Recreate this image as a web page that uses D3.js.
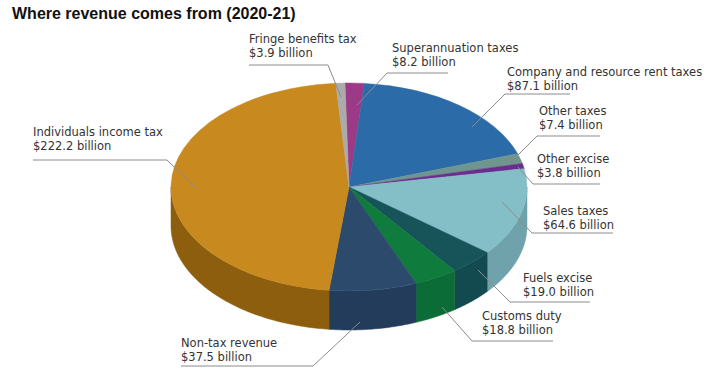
<!DOCTYPE html>
<html>
<head>
<meta charset="utf-8">
<script src="https://cdn.jsdelivr.net/npm/d3@7"></script>
<style>
  body { margin: 0; background: #fff; }
  .label { font-family: 'DejaVu Sans', sans-serif; }
  .title { font-family: 'Liberation Sans', Arial, sans-serif; font-weight: bold; }
</style>
</head>
<body>
<div id="chart"></div>
<script>
// The SVG Element
var chart_width  = 711;
var chart_height = 373;

// Data (clockwise from the top)
var categories = ['Superannuation taxes', 'Company and resource rent taxes', 'Other taxes', 'Other excise',
                  'Sales taxes', 'Fuels excise', 'Customs duty', 'Non-tax revenue',
                  'Individuals income tax', 'Fringe benefits tax'];
var values = [8.2, 87.1, 7.4, 3.8, 64.6, 19.0, 18.8, 37.5, 222.2, 3.9];
var value_labels = ['$8.2 billion', '$87.1 billion', '$7.4 billion', '$3.8 billion', '$64.6 billion',
                    '$19.0 billion', '$18.8 billion', '$37.5 billion', '$222.2 billion', '$3.9 billion'];

// Colours
var top_colors  = ['#9c3a88', '#2a6ba8', '#6e968f', '#6b2c8e', '#84bfc8',
                   '#16545a', '#0f7b3d', '#2c4a6b', '#c8891e', '#ababab'];
var side_colors = ['#7a2d6a', '#215584', '#577671', '#55236f', '#6fa2aa',
                   '#124a50', '#0c6c37', '#233c5c', '#8c5e0e', '#8a8a8a'];

// Label layout: text position, underline, and where the leader meets the slice
var label_layout = [
  { tx: 392, ty: 52,  ly: 73,  far: 448, join: 387, px: 357, py: 105 },
  { tx: 507, ty: 76,  ly: 94,  far: 570, join: 505, px: 472, py: 127 },
  { tx: 539, ty: 115, ly: 136, far: 600, join: 537, px: 513, py: 160 },
  { tx: 537, ty: 163, ly: 184, far: 600, join: 533, px: 518, py: 167 },
  { tx: 543, ty: 215, ly: 233, far: 613, join: 532, px: 502, py: 202 },
  { tx: 523, ty: 282, ly: 302, far: 590, join: 510, px: 478, py: 270 },
  { tx: 482, ty: 320, ly: 341, far: 553, join: 472, px: 442, py: 307 },
  { tx: 181, ty: 347, ly: 366, far: 181, join: 313, px: 360, py: 322 },
  { tx: 33,  ty: 136, ly: 160, far: 33,  join: 167, px: 198, py: 190 },
  { tx: 249, ty: 43,  ly: 65,  far: 249, join: 328, px: 341, py: 97 }
];

// Pie geometry
var cx = 349, cy = 187, rx = 178, ry = 104, depth = 39;
var start = -1.3 * Math.PI / 180;

var svg = d3.select('#chart')
  .append('svg')
  .attr('width', chart_width)
  .attr('height', chart_height);

svg.append('text')
  .attr('class', 'title')
  .attr('x', 12)
  .attr('y', 19)
  .style('font-size', '16px')
  .attr('fill', '#111')
  .text('Where revenue comes from (2020-21)');

var pie = d3.pie().sort(null).value(function(d){ return d; })
  .startAngle(start).endAngle(start + 2 * Math.PI);
var arcs = pie(values);

// side walls, only the front half is visible
var line = d3.line();
var sides = svg.append('g');
arcs.forEach(function(d, i){
  var a0 = Math.max(d.startAngle, Math.PI / 2);
  var a1 = Math.min(d.endAngle, 3 * Math.PI / 2);
  if (a0 >= a1) return;
  var pts = [], n = 40, k, a;
  for (k = 0; k <= n; k++) {
    a = a0 + (a1 - a0) * k / n;
    pts.push([cx + rx * Math.sin(a), cy - ry * Math.cos(a)]);
  }
  for (k = n; k >= 0; k--) {
    a = a0 + (a1 - a0) * k / n;
    pts.push([cx + rx * Math.sin(a), cy - ry * Math.cos(a) + depth]);
  }
  sides.append('path')
    .attr('d', line(pts) + 'Z')
    .attr('fill', side_colors[i])
    .attr('stroke', side_colors[i])
    .attr('stroke-width', 0.5);
});

// top faces
var arc = d3.arc().innerRadius(0).outerRadius(rx);
svg.append('g')
  .attr('transform', 'translate(' + cx + ',' + cy + ') scale(1,' + (ry / rx) + ')')
  .selectAll('path')
  .data(arcs)
  .enter()
  .append('path')
  .attr('d', arc)
  .attr('fill', function(d, i){ return top_colors[i]; })
  .attr('stroke', function(d, i){ return top_colors[i]; })
  .attr('stroke-width', 0.5)
  .attr('vector-effect', 'non-scaling-stroke');

// labels and leaders
var labels = svg.append('g');
categories.forEach(function(name, i){
  var l = label_layout[i];
  labels.append('path')
    .attr('d', line([[l.far, l.ly], [l.join, l.ly], [l.px, l.py]]))
    .attr('fill', 'none')
    .attr('stroke', '#8c8c8c')
    .attr('stroke-width', 1);
  labels.append('text')
    .attr('class', 'label')
    .attr('x', l.tx)
    .attr('y', l.ty)
    .style('font-size', '11.5px')
    .attr('fill', '#333')
    .text(name);
  labels.append('text')
    .attr('class', 'label')
    .attr('x', l.tx)
    .attr('y', l.ty + 14)
    .style('font-size', '11.5px')
    .attr('fill', '#333')
    .text(value_labels[i]);
});
</script>
</body>
</html>
